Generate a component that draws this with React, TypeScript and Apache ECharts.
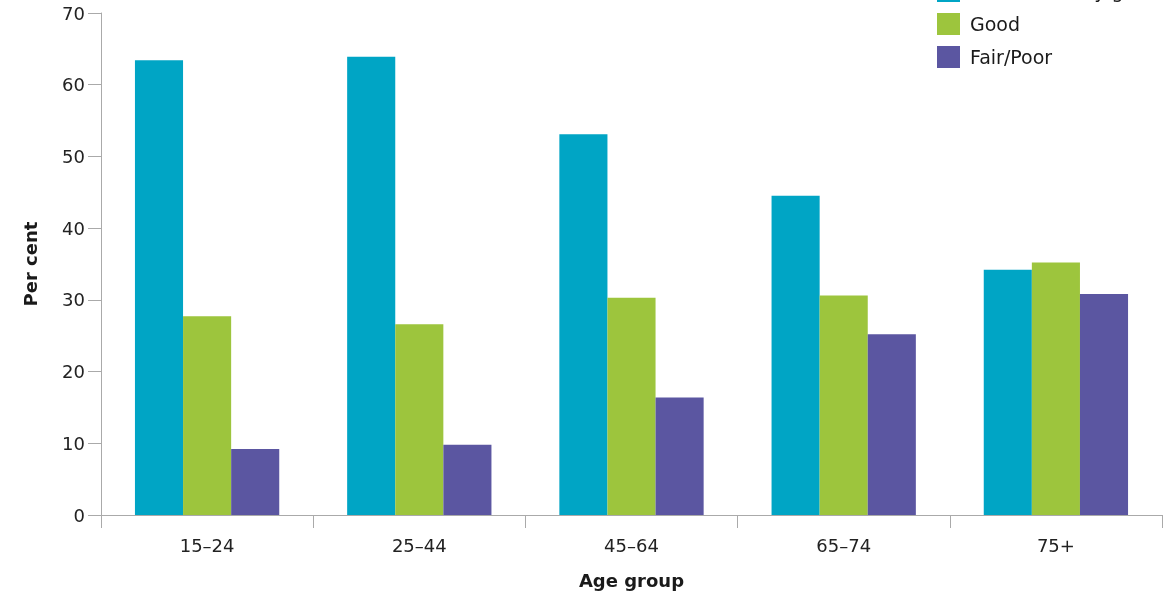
import React, { useEffect, useRef } from "react";
import * as echarts from "echarts";

const ageGroups = ["15–24", "25–44", "45–64", "65–74", "75+"];
const excellentVeryGood = [63.4, 63.9, 53.1, 44.5, 34.2];
const good = [27.7, 26.6, 30.3, 30.6, 35.2];
const fairPoor = [9.2, 9.8, 16.4, 25.2, 30.8];

const FONT = "'DejaVu Sans', sans-serif";

const App = () => {
  const chartRef = useRef<HTMLDivElement>(null);

  useEffect(() => {
    if (!chartRef.current) return;
    const myChart = echarts.init(chartRef.current, null, { renderer: "svg" });

    const option = {
      animation: false,
      color: ["#00A5C5", "#9DC53D", "#5B56A1"],
      textStyle: { fontFamily: FONT },
      legend: {
        orient: "vertical",
        left: 937,
        top: -20,
        padding: 0,
        itemWidth: 23,
        itemHeight: 22,
        itemGap: 11,
        icon: "rect",
        textStyle: {
          fontFamily: FONT,
          fontSize: 19,
          color: "#1a1a1a",
          padding: [0, 0, 0, 5],
        },
        data: ["Excellent/Very good", "Good", "Fair/Poor"],
      },
      grid: {
        left: 101,
        right: 3,
        top: 13,
        bottom: 80,
      },
      xAxis: {
        type: "category",
        data: ageGroups,
        name: "Age group",
        nameLocation: "middle",
        nameGap: 56,
        nameTextStyle: {
          fontFamily: FONT,
          fontWeight: "bold",
          fontSize: 18,
          color: "#1a1a1a",
        },
        axisLine: { lineStyle: { color: "#aaaaaa", width: 1 } },
        axisTick: {
          show: true,
          length: 13,
          alignWithLabel: false,
          lineStyle: { color: "#aaaaaa" },
        },
        axisLabel: {
          fontFamily: FONT,
          fontSize: 18,
          color: "#222222",
          margin: 21,
        },
      },
      yAxis: {
        type: "value",
        min: 0,
        max: 70,
        interval: 10,
        name: "Per cent",
        nameLocation: "middle",
        nameRotate: 90,
        nameGap: 62,
        nameTextStyle: {
          fontFamily: FONT,
          fontWeight: "bold",
          fontSize: 18,
          color: "#1a1a1a",
        },
        axisLine: { show: true, lineStyle: { color: "#aaaaaa", width: 1 } },
        axisTick: { show: true, length: 13, lineStyle: { color: "#aaaaaa" } },
        axisLabel: {
          fontFamily: FONT,
          fontSize: 18,
          color: "#222222",
          margin: 16,
        },
        splitLine: { show: false },
      },
      series: [
        {
          name: "Excellent/Very good",
          type: "bar",
          data: excellentVeryGood,
          barGap: "0%",
          barCategoryGap: "32%",
        },
        {
          name: "Good",
          type: "bar",
          data: good,
          barGap: "0%",
          barCategoryGap: "32%",
        },
        {
          name: "Fair/Poor",
          type: "bar",
          data: fairPoor,
          barGap: "0%",
          barCategoryGap: "32%",
        },
      ],
    };

    myChart.setOption(option);

    return () => {
      myChart.dispose();
    };
  }, []);

  return (
    <div
      ref={chartRef}
      style={{ position: "fixed", left: 0, top: 0, width: 1165, height: 595 }}
    ></div>
  );
};

export default App;
